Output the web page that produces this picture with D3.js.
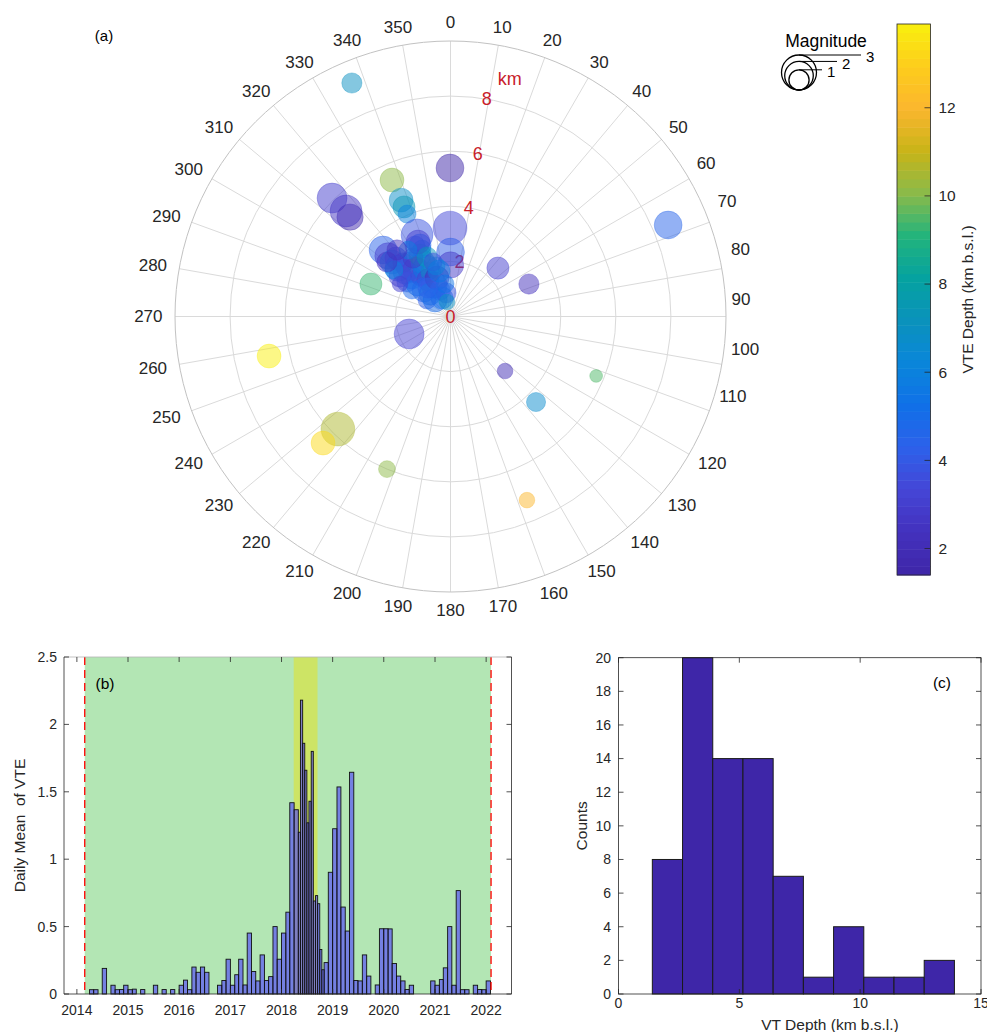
<!DOCTYPE html>
<html>
<head>
<meta charset="utf-8">
<script src="https://cdn.jsdelivr.net/npm/d3@7"></script>
<style>
  html, body { margin: 0; padding: 0; background: #fff; }
  svg { display: block; font-family: "Liberation Sans", Arial, Helvetica, sans-serif; }
</style>
</head>
<body>
<svg id="fig" width="987" height="1032"></svg>
<script>
// ---------------- Event catalogue (panel a, c) ----------------
// azimuth clockwise from north (deg), epicentral distance (km), depth (km b.s.l.), magnitude
const azimuthDeg = [
  337.1, 359.8, 315.0, 314.7, 315.3, 336.8, 337.0, 337.0, 337.0, 67.2,
  359.7, 0.0, 0.0, 337.7, 336.9, 44.4, 67.5, 292.2, 247.1, 257.7,
  135.0, 112.2, 135.0, 225.0, 225.2, 202.6, 157.4,
  314.6, 314.1, 313.0, 317.0, 312.7, 318.4, 314.4, 321.3, 315.0, 323.4,
  308.4, 315.0, 323.9, 333.2, 333.6, 333.2, 328.4, 315.0, 336.3, 332.4,
  317.7, 340.7, 338.4, 335.3, 349.2, 344.0, 327.3, 308.7, 309.5, 310.6,
  333.3, 337.1, 336.4, 338.5, 342.2, 345.8, 305.1, 316.8, 304.5, 302.8,
  350.4, 346.4, 327.4, 321.2, 321.7
];
const distanceKm = [
  9.20, 5.39, 6.08, 5.13, 5.39, 5.39, 4.59, 4.32, 4.04, 8.57,
  3.21, 2.34, 1.87, 3.20, 2.82, 2.46, 3.08, 3.12, 1.63, 6.74,
  2.80, 5.71, 4.39, 5.78, 6.52, 6.00, 7.22,
  3.44, 3.16, 2.90, 2.90, 2.59, 2.60, 2.31, 2.35, 1.98, 2.10,
  2.02, 1.67, 1.82, 2.22, 2.49, 1.97, 1.56, 1.36, 1.76, 1.29,
  1.10, 1.48, 1.03, 0.74, 0.87, 1.91, 2.52, 2.35, 2.66, 3.04,
  2.86, 2.66, 2.95, 2.32, 2.08, 1.70, 1.04, 0.82, 1.70, 2.18,
  1.20, 0.54, 2.86, 3.10, 1.32
];
const depthKm = [
  7.0, 1.40, 3.0, 1.6, 2.5, 10.1, 6.8, 7.4, 6.0, 4.5,
  3.4, 4.2, 2.8, 3.8, 4.6, 3.0, 2.3, 9.3, 3.2, 13.9,
  2.0, 9.5, 6.6, 10.6, 13.3, 10.1, 12.0,
  4.4, 3.0, 5.8, 3.6, 4.9, 3.2, 5.5, 3.5, 6.0, 2.9,
  4.0, 5.3, 3.3, 6.2, 7.9, 5.6, 3.1, 4.7, 6.9, 3.7,
  5.9, 2.2, 4.3, 5.2, 3.85, 6.3, 2.7, 3.4, 6.1, 2.5,
  4.1, 5.0, 3.0, 7.2, 3.6, 5.7, 4.2, 5.0, 4.8, 3.1,
  5.4, 7.0, 5.8, 2.4, 4.4
];
const magnitude = [
  1.0, 1.9, 2.2, 1.7, 2.5, 1.4, 1.4, 1.2, 0.8, 1.9,
  2.8, 1.9, 1.7, 2.5, 1.2, 1.2, 1.0, 1.2, 2.2, 1.4,
  0.6, 0.4, 0.9, 2.8, 1.4, 0.7, 0.6,
  1.9, 1.7, 1.4, 1.2, 1.7, 1.0, 1.4, 1.9, 1.2, 1.7,
  1.0, 1.4, 1.0, 1.4, 1.2, 1.7, 1.2, 1.4, 1.0, 1.7,
  1.2, 1.4, 1.0, 1.2, 1.0, 0.8, 1.0, 1.2, 0.8, 1.0,
  1.0, 0.8, 1.4, 1.0, 0.8, 1.2, 0.8, 1.4, 0.8, 0.6,
  0.8, 0.6, 0.8, 1.0, 1.0
];

const angleTicks = d3.range(0, 360, 10);
const radiusRings = [2, 4, 6, 8];
const radiusLabels = ["0", "2", "4", "6", "8"];
const legendMagnitudes = [1, 2, 3];
const depthTicks = [2, 4, 6, 8, 10, 12];

// colour map stops (low → high depth)
const depthColors = ["#3e26a8", "#4331bd", "#4545d6", "#2d61ea", "#1070e8", "#0a86da",
  "#0a92bc", "#05a2a0", "#22b47c", "#8aba4a", "#c8b418", "#fbb62e", "#fdcd1c", "#f9f00e"];

// ---------------- Daily mean of VTE (panel b) ----------------
const mean2014 = [0, 0.032, 0.032, 0, 0.19, 0, 0.065, 0.032, 0.033, 0.065];      // Mar–Dec
const mean2015 = [0.032, 0.036, 0, 0.033, 0, 0, 0.065, 0, 0.033, 0, 0.033, 0];
const mean2016 = [0.065, 0.103, 0.032, 0.2, 0.161, 0.2, 0.161, 0, 0, 0.065, 0.1, 0.258];
const mean2017 = [0.065, 0.143, 0.258, 0.067, 0.452, 0.167, 0.097, 0.29, 0.1, 0.129, 0.5, 0.258];
const mean2018 = [0.452, 0.607, 1.419, 1.367, null, null, null, null, null, null, 0.233, 0.903];
const mean2018Half = [1.2, 2.18, 1.86, 1.66, 1.27, 1.43, 1.8, 0.69, 0.73, 0.67, 0.33, 0.18]; // May–Oct, half months
const mean2019 = [1.226, 1.536, 0.645, 0.467, 1.645, 0.1, 0.097, 0.29, 0.133, 0, 0.067, 0.484];
const mean2020 = [0.484, 0.483, 0.226, 0.133, 0.097, 0.033, 0.065, 0, 0, 0, 0, 0.097];
const mean2021 = [0.065, 0.107, 0.194, 0.5, 0.065, 0.767, 0.032, 0.032, 0, 0.065, 0.033, 0.032];
const mean2022 = [0.097];                                                          // Jan
const yearTicks = [2014, 2015, 2016, 2017, 2018, 2019, 2020, 2021, 2022];
const meanTicks = [0, 0.5, 1, 1.5, 2, 2.5];
const monitoringStart = new Date(2014, 1, 26);
const monitoringEnd = new Date(2022, 1, 5);
const unrestStart = new Date(2018, 2, 29);
const unrestEnd = new Date(2018, 8, 15);

const countTicks = [0, 2, 4, 6, 8, 10, 12, 14, 16, 18, 20];
const depthAxisTicks = [0, 5, 10, 15];

// ---------------------------------------------------------------
const svg = d3.select("#fig");
const AXC = "#262626";

// ================= (a) polar map =================
const cx = 450.5, cy = 316.5, R = 275.5;
const rKm = d3.scaleLinear().domain([0, 10]).range([0, R]);
const rad = d => d * Math.PI / 180;
const polar = (az, r) => [cx + r * Math.sin(rad(az)), cy - r * Math.cos(rad(az))];
const [dMin, dMax] = d3.extent(depthKm);
const depthColor = d3.scaleLinear()
  .domain(depthColors.map((c, i) => dMin + (dMax - dMin) * i / (depthColors.length - 1)))
  .range(depthColors).clamp(true);
const sizeScale = d3.scaleSqrt().domain([0, 3]).range([0, 10.1 * Math.sqrt(3)]);

const gA = svg.append("g");
gA.selectAll(".spoke").data(angleTicks).join("line")
  .attr("x1", cx).attr("y1", cy)
  .attr("x2", d => polar(d, R)[0]).attr("y2", d => polar(d, R)[1])
  .attr("stroke", "#dadada").attr("stroke-width", 1);
gA.selectAll(".ring").data(radiusRings).join("circle")
  .attr("cx", cx).attr("cy", cy).attr("r", d => rKm(d))
  .attr("fill", "none").attr("stroke", "#dadada").attr("stroke-width", 1);
gA.append("circle").attr("cx", cx).attr("cy", cy).attr("r", R)
  .attr("fill", "none").attr("stroke", "#c2c2c2").attr("stroke-width", 1);

// azimuth labels placed just outside the rim; a few on the east side sit slightly higher
const labelNudge = { 60: [-2, -6], 70: [-3, -15], 80: [-3, -16], 90: [-7, -17], 100: [-3, -19], 110: [-1, -21] };
angleTicks.forEach(a => {
  const t = gA.append("text").text(a).attr("font-size", 17).attr("fill", "#262626")
    .attr("text-anchor", "middle").attr("dy", "0.35em");
  const w = t.node().getComputedTextLength(), h = 12;
  const [px, py] = polar(a, R + 12.5);
  const [nx, ny] = labelNudge[a] || [0, 0];
  t.attr("x", px + (w / 2) * Math.sin(rad(a)) + nx).attr("y", py - (h / 2) * Math.cos(rad(a)) + ny);
});

// radial labels
gA.selectAll(".rlab").data(radiusLabels).join("text")
  .attr("x", (d, i) => polar(9.5, rKm(i * 2))[0])
  .attr("y", (d, i) => polar(9.5, rKm(i * 2))[1])
  .attr("dy", "0.35em").attr("text-anchor", "middle")
  .attr("font-size", 18).attr("fill", "#c8202a").text(d => d);
gA.append("text").attr("x", polar(14, rKm(8.9))[0]).attr("y", polar(14, rKm(8.9))[1])
  .attr("dy", "0.35em").attr("text-anchor", "middle")
  .attr("font-size", 18).attr("fill", "#c8202a").text("km");

// events
const events = azimuthDeg.map((a, i) => ({ az: a, dist: distanceKm[i], depth: depthKm[i], mag: magnitude[i] }));
gA.selectAll(".ev").data(events).join("circle")
  .attr("cx", d => polar(d.az, rKm(d.dist))[0])
  .attr("cy", d => polar(d.az, rKm(d.dist))[1])
  .attr("r", d => sizeScale(d.mag))
  .attr("fill", d => depthColor(d.depth)).attr("fill-opacity", 0.5)
  .attr("stroke", d => depthColor(d.depth)).attr("stroke-opacity", 0.4).attr("stroke-width", 0.8);

gA.append("text").attr("x", 104).attr("y", 36).attr("dy", "0.35em").attr("text-anchor", "middle")
  .attr("font-size", 15).attr("fill", "#000").text("(a)");

// magnitude legend
const legX = 799, legBottom = 90;
const gL = svg.append("g");
gL.append("text").attr("x", 826).attr("y", 41).attr("dy", "0.35em").attr("text-anchor", "middle")
  .attr("font-size", 17.5).attr("fill", "#000").text("Magnitude");
gL.selectAll(".lc").data(legendMagnitudes).join("circle")
  .attr("cx", legX).attr("cy", d => legBottom - sizeScale(d)).attr("r", d => sizeScale(d))
  .attr("fill", "none").attr("stroke", "#000").attr("stroke-width", 1.3);
const legLineEnd = { 1: 822, 2: 837, 3: 861 };
gL.selectAll(".ll").data(legendMagnitudes).join("line")
  .attr("x1", legX).attr("x2", d => legLineEnd[d])
  .attr("y1", d => legBottom - 2 * sizeScale(d)).attr("y2", d => legBottom - 2 * sizeScale(d))
  .attr("stroke", "#000").attr("stroke-width", 1);
gL.selectAll(".lt").data(legendMagnitudes).join("text")
  .attr("x", d => legLineEnd[d] + 5).attr("y", d => legBottom - 2 * sizeScale(d) + 2)
  .attr("dy", "0.35em").attr("font-size", 15).attr("fill", "#000").text(d => d);

// colour bar
const cbX = 897, cbW = 33.5, cbTop = 24, cbBot = 575;
const cbY = d3.scaleLinear().domain([dMin, dMax]).range([cbBot, cbTop]);
const nLev = 64;
const levels = d3.range(nLev);
const gC = svg.append("g");
gC.selectAll("rect").data(levels).join("rect")
  .attr("x", cbX).attr("width", cbW)
  .attr("y", i => cbY(dMin + (dMax - dMin) * (i + 1) / nLev))
  .attr("height", (cbBot - cbTop) / nLev + 0.5)
  .attr("fill", i => depthColor(dMin + (dMax - dMin) * (i + 0.5) / nLev));
gC.append("rect").attr("x", cbX).attr("y", cbTop).attr("width", cbW).attr("height", cbBot - cbTop)
  .attr("fill", "none").attr("stroke", AXC).attr("stroke-width", 0.8);
gC.selectAll(".ct").data(depthTicks).join("line")
  .attr("x1", cbX + cbW - 6).attr("x2", cbX + cbW).attr("y1", d => cbY(d)).attr("y2", d => cbY(d))
  .attr("stroke", AXC).attr("stroke-width", 0.8);
gC.selectAll(".cl").data(depthTicks).join("text")
  .attr("x", cbX + cbW + 8).attr("y", d => cbY(d)).attr("dy", "0.35em")
  .attr("font-size", 15.5).attr("fill", AXC).text(d => d);
gC.append("text").attr("transform", `translate(968,${(cbTop + cbBot) / 2}) rotate(-90)`)
  .attr("text-anchor", "middle").attr("dy", "0.35em").attr("font-size", 15.5).attr("fill", AXC)
  .text("VTE Depth (km b.s.l.)");

// ================= (b) daily mean of VTE =================
const bL = 64, bR = 511.5, bT = 657, bB = 994;
const xB = d3.scaleTime().domain([new Date(2013, 9, 1), new Date(2022, 6, 1)]).range([bL, bR]);
const yB = d3.scaleLinear().domain([0, 2.5]).range([bB, bT]);

const monthlyRows = [[2014, 2, mean2014], [2015, 0, mean2015], [2016, 0, mean2016], [2017, 0, mean2017],
  [2018, 0, mean2018], [2019, 0, mean2019], [2020, 0, mean2020], [2021, 0, mean2021], [2022, 0, mean2022]];
const bins = [];
monthlyRows.forEach(([yr, m0, vals]) => vals.forEach((v, i) => {
  if (v === null) return;
  bins.push({ start: new Date(yr, m0 + i, 1), end: new Date(yr, m0 + i + 1, 1), value: v });
}));
mean2018Half.forEach((v, i) => {
  const m = 4 + Math.floor(i / 2);
  const start = i % 2 ? new Date(2018, m, 16) : new Date(2018, m, 1);
  const end = i % 2 ? new Date(2018, m + 1, 1) : new Date(2018, m, 16);
  bins.push({ start, end, value: v });
});

const gB = svg.append("g");
gB.append("rect").attr("x", xB(monitoringStart)).attr("y", bT)
  .attr("width", xB(monitoringEnd) - xB(monitoringStart)).attr("height", bB - bT).attr("fill", "#b3e6b4");
gB.append("rect").attr("x", xB(unrestStart)).attr("y", bT)
  .attr("width", xB(unrestEnd) - xB(unrestStart)).attr("height", bB - bT).attr("fill", "#cde465");
gB.selectAll(".bar").data(bins).join("rect")
  .attr("x", d => xB(d.start)).attr("width", d => xB(d.end) - xB(d.start))
  .attr("y", d => yB(d.value)).attr("height", d => yB(0) - yB(d.value))
  .attr("fill", "#4a3cff").attr("fill-opacity", 0.6)
  .attr("stroke", "#111").attr("stroke-width", 0.9);
[monitoringStart, monitoringEnd].forEach(d => {
  gB.append("line").attr("x1", xB(d)).attr("x2", xB(d)).attr("y1", bT).attr("y2", bB)
    .attr("stroke", "#ff0000").attr("stroke-width", 1.3).attr("stroke-dasharray", "8,5");
});
// frame
gB.append("line").attr("x1", bL).attr("x2", bR).attr("y1", bT).attr("y2", bT).attr("stroke", "#b4b4b4").attr("stroke-width", 0.8);
gB.append("line").attr("x1", bL).attr("x2", bR).attr("y1", bB).attr("y2", bB).attr("stroke", AXC).attr("stroke-width", 0.8);
gB.append("line").attr("x1", bL).attr("x2", bL).attr("y1", bT).attr("y2", bB).attr("stroke", AXC).attr("stroke-width", 0.8);
gB.append("line").attr("x1", bR).attr("x2", bR).attr("y1", bT).attr("y2", bB).attr("stroke", AXC).attr("stroke-width", 0.8);
yearTicks.forEach(y => {
  const x = xB(new Date(y, 0, 1));
  gB.append("line").attr("x1", x).attr("x2", x).attr("y1", bB).attr("y2", bB - 5).attr("stroke", AXC).attr("stroke-width", 0.8);
  gB.append("line").attr("x1", x).attr("x2", x).attr("y1", bT).attr("y2", bT + 5).attr("stroke", AXC).attr("stroke-width", 0.8);
  gB.append("text").attr("x", x).attr("y", 1015).attr("text-anchor", "middle")
    .attr("font-size", 14).attr("fill", AXC).text(y);
});
meanTicks.forEach(v => {
  const y = yB(v);
  gB.append("line").attr("x1", bL).attr("x2", bL + 5).attr("y1", y).attr("y2", y).attr("stroke", AXC).attr("stroke-width", 0.8);
  gB.append("line").attr("x1", bR).attr("x2", bR - 5).attr("y1", y).attr("y2", y).attr("stroke", AXC).attr("stroke-width", 0.8);
  gB.append("text").attr("x", 57).attr("y", y).attr("dy", "0.35em").attr("text-anchor", "end")
    .attr("font-size", 14).attr("fill", AXC).text(v);
});
gB.append("text").attr("transform", `translate(20,${(bT + bB) / 2}) rotate(-90)`)
  .attr("text-anchor", "middle").attr("dy", "0.35em").attr("font-size", 15.5).attr("fill", AXC)
  .style("white-space", "pre").text("Daily Mean  of VTE");
gB.append("text").attr("x", 105).attr("y", 684).attr("dy", "0.35em").attr("text-anchor", "middle")
  .attr("font-size", 15.5).attr("fill", "#000").text("(b)");

// ================= (c) depth histogram =================
const cL = 618.5, cR = 981, cT = 657.7, cB = 994;
const xC = d3.scaleLinear().domain([0, 15]).range([cL, cR]);
const yC = d3.scaleLinear().domain([0, 20]).range([cB, cT]);
const binW = (dMax - dMin) / 10;
const hist = d3.bin().domain([dMin, dMax])
  .thresholds(d3.range(1, 10).map(k => dMin + k * binW))(depthKm);

const gH = svg.append("g");
gH.selectAll(".hb").data(hist).join("rect")
  .attr("x", d => xC(d.x0)).attr("width", d => xC(d.x1) - xC(d.x0))
  .attr("y", d => yC(d.length)).attr("height", d => yC(0) - yC(d.length))
  .attr("fill", "#3e26a8").attr("stroke", "#1a1a1a").attr("stroke-width", 1);
gH.append("rect").attr("x", cL).attr("y", cT).attr("width", cR - cL).attr("height", cB - cT)
  .attr("fill", "none").attr("stroke", AXC).attr("stroke-width", 0.8);
depthAxisTicks.forEach(v => {
  const x = xC(v);
  gH.append("line").attr("x1", x).attr("x2", x).attr("y1", cB).attr("y2", cB - 5).attr("stroke", AXC).attr("stroke-width", 0.8);
  gH.append("line").attr("x1", x).attr("x2", x).attr("y1", cT).attr("y2", cT + 5).attr("stroke", AXC).attr("stroke-width", 0.8);
  gH.append("text").attr("x", x).attr("y", 1008).attr("text-anchor", "middle")
    .attr("font-size", 14).attr("fill", AXC).text(v);
});
countTicks.forEach(v => {
  const y = yC(v);
  gH.append("line").attr("x1", cL).attr("x2", cL + 5).attr("y1", y).attr("y2", y).attr("stroke", AXC).attr("stroke-width", 0.8);
  gH.append("line").attr("x1", cR).attr("x2", cR - 5).attr("y1", y).attr("y2", y).attr("stroke", AXC).attr("stroke-width", 0.8);
  gH.append("text").attr("x", 611).attr("y", y).attr("dy", "0.35em").attr("text-anchor", "end")
    .attr("font-size", 14).attr("fill", AXC).text(v);
});
gH.append("text").attr("transform", `translate(582,${(cT + cB) / 2}) rotate(-90)`)
  .attr("text-anchor", "middle").attr("dy", "0.35em").attr("font-size", 15.5).attr("fill", AXC).text("Counts");
gH.append("text").attr("x", 830).attr("y", 1030).attr("text-anchor", "middle")
  .attr("font-size", 15.5).attr("fill", AXC).text("VT Depth (km b.s.l.)");
gH.append("text").attr("x", 942).attr("y", 683).attr("dy", "0.35em").attr("text-anchor", "middle")
  .attr("font-size", 15.5).attr("fill", "#000").text("(c)");
</script>
</body>
</html>
